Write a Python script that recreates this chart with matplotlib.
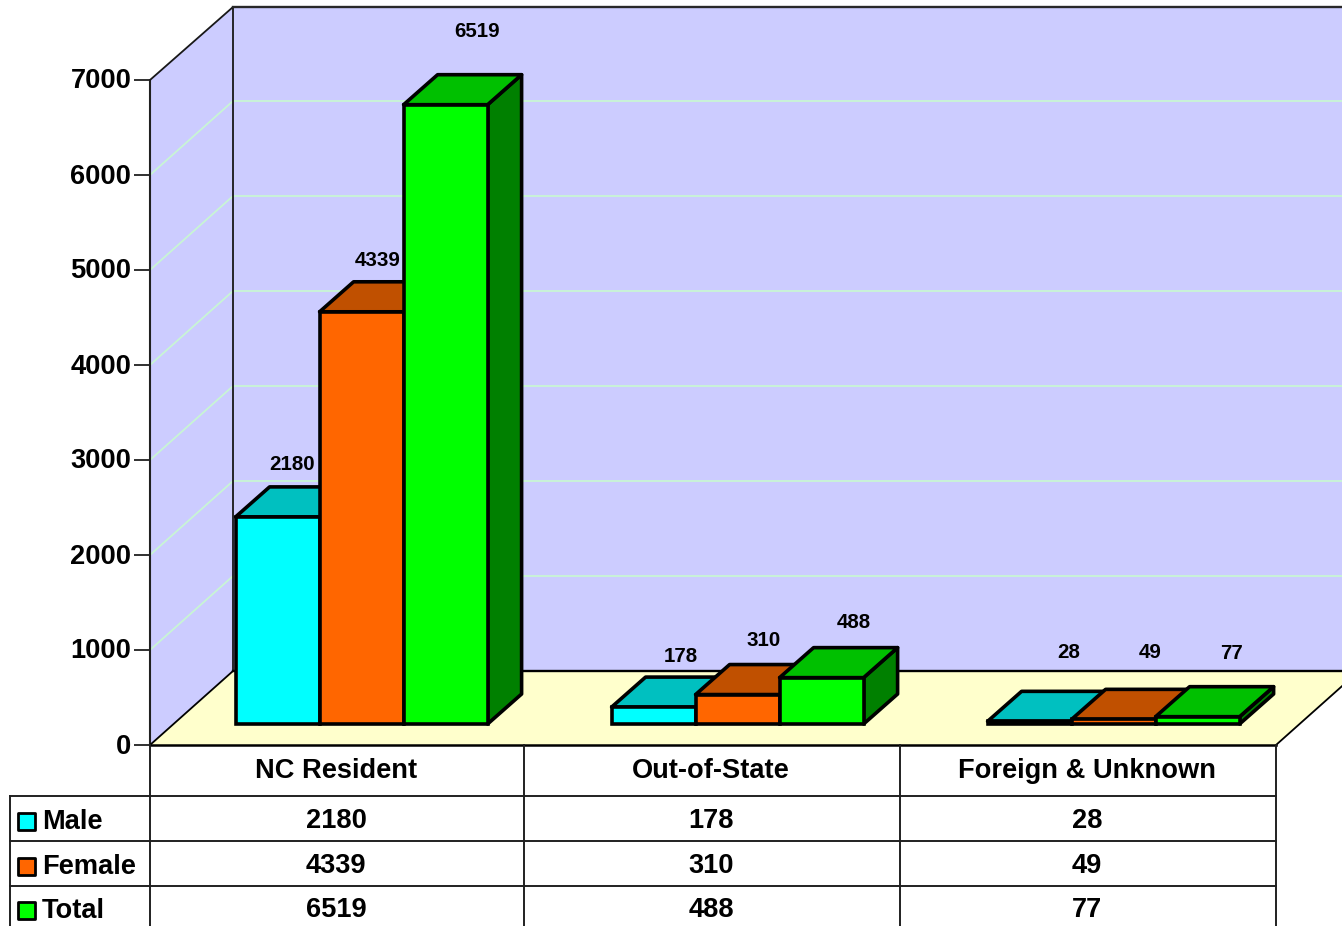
import matplotlib
matplotlib.use("Agg")
import matplotlib.pyplot as plt
from matplotlib.patches import Polygon, Rectangle
from matplotlib.transforms import ScaledTranslation

categories = ["NC Resident", "Out-of-State", "Foreign & Unknown"]
series_names = ["Male", "Female", "Total"]
male = [2180, 178, 28]
female = [4339, 310, 49]
total = [6519, 488, 77]
y_ticks = [0, 1000, 2000, 3000, 4000, 5000, 6000, 7000]

series = [male, female, total]
front_colors = ["#00FFFF", "#FF6600", "#00FF00"]
top_colors = ["#00C0C0", "#C05000", "#00C000"]
side_colors = ["#008080", "#803300", "#008000"]

plt.rcParams["font.family"] = ["Liberation Sans", "DejaVu Sans"]
plt.rcParams["font.weight"] = "bold"

W, H = 1342, 926
PX_PER_UNIT = 0.095   # 95 px for every 1000
BASE_PX = 745         # pixel row of value 0


def val(p):
    # pixel row -> value on the y axis
    return (BASE_PX - p) / PX_PER_UNIT


fig = plt.figure(figsize=(W / 100, H / 100), dpi=100)
ax = fig.add_axes([150 / W, 0, (W - 150) / W, 1])
ax.set_xlim(150, W)
ax.set_ylim(val(H), val(0))
ax.patch.set_visible(False)

for s in ["top", "right", "bottom"]:
    ax.spines[s].set_visible(False)
ax.spines["left"].set_bounds(0, 7000)
ax.spines["left"].set_linewidth(1.5)
ax.spines["left"].set_color("#202020")
ax.set_xticks([])
ax.set_yticks(y_ticks)
ax.tick_params(axis="y", length=11.5, width=1.4, color="#303030", pad=2, labelsize=19.6)
# tick text sits a little higher than matplotlib centres it
nudge = ScaledTranslation(0, 1.5 / 100, fig.dpi_scale_trans)
for lab in ax.get_yticklabels():
    lab.set_transform(lab.get_transform() + nudge)

depth_x, depth_y = 83, 74
lift = val(BASE_PX - depth_y)
right_edge = 1276

# walls and floor
wall = "#CCCCFF"
wall_top = val(7)
ax.add_patch(Polygon([(233, lift), (W + 20, lift), (W + 20, wall_top), (233, wall_top)],
                     fc=wall, ec="none", zorder=1))
ax.add_patch(Polygon([(150, 0), (233, lift), (233, wall_top), (150, 7000)],
                     fc=wall, ec="none", zorder=1))
for t in y_ticks[1:-1]:
    ax.plot([150, 233, W], [t, t + lift, t + lift], color="#C8F5D4", lw=1.3, zorder=2)
ax.add_patch(Polygon([(150, 0), (233, lift), (right_edge + depth_x, lift), (right_edge, 0)],
                     fc="#FFFFCC", ec="none", zorder=3))
ax.plot([150, 233, 233], [7000, wall_top, lift], color="#181818", lw=1.3, zorder=4)
ax.plot([233, W], [wall_top, wall_top], color="#282828", lw=1.7, zorder=4)
ax.plot([233, W], [lift, lift], color="black", lw=1.7, zorder=4)
ax.plot([150, 233], [0, lift], color="black", lw=1.3, zorder=4)
ax.plot([right_edge, right_edge + depth_x], [0, lift], color="black", lw=1.3, zorder=4)

# bars
group_left = [235.6, 611.6, 987.6]
bar_w = 84
bar_lift = val(724)
dx, dy = 34, 30 / PX_PER_UNIT
edge = dict(ec="black", lw=2.6, joinstyle="round")

z = 5
for g, left in enumerate(group_left):
    for i, vals in enumerate(series):
        x0 = left + i * bar_w
        x1 = x0 + bar_w
        y0 = bar_lift
        y1 = bar_lift + vals[g]
        ax.add_patch(Polygon([(x1, y0), (x1 + dx, y0 + dy), (x1 + dx, y1 + dy), (x1, y1)],
                             fc=side_colors[i], zorder=z, **edge))
        ax.add_patch(Polygon([(x0, y1), (x0 + dx, y1 + dy), (x1 + dx, y1 + dy), (x1, y1)],
                             fc=top_colors[i], zorder=z, **edge))
        ax.bar(x0, vals[g], width=bar_w, bottom=y0, align="edge", color=front_colors[i],
               edgecolor="black", linewidth=2.6, zorder=z + 0.5)
        z += 1

# value labels, offsets from bar left / bar top in pixels
label_dx = [[56, 58, 73], [69, 68, 74], [81, 79, 76]]
label_dy = [[52, 51, 73], [51, 54, 55], [69, 67, 63]]
for g, left in enumerate(group_left):
    for i, vals in enumerate(series):
        ax.text(left + i * bar_w + label_dx[g][i],
                bar_lift + vals[g] + label_dy[g][i] / PX_PER_UNIT,
                str(vals[g]), ha="center", va="center", fontsize=14.8, color="black", zorder=30)

# data table
col_x = [150, 524, 900, 1276]
row_y = [745, 796, 841, 886]
line = dict(color="#202020", lw=1.4, zorder=31, clip_on=False)
ax.plot([150, right_edge], [0, 0], color="black", lw=1.8, zorder=31)
for x in col_x:
    ax.plot([x, x], [val(745), val(H)], **line)
for r in row_y[1:]:
    ax.plot([10, right_edge], [val(r), val(r)], **line)
ax.plot([10, 10], [val(796), val(H)], **line)

txt = dict(ha="center", va="center", fontsize=19.6, color="black", zorder=32)
col_c = [336, 711, 1087]
for c, name in zip(col_c, categories):
    ax.text(c, val(771), name, **txt)
row_c = [821, 866, 910]
for i, name in enumerate(series_names):
    ax.add_patch(Rectangle((18, val(row_c[i] + 9)), 17, 17 / PX_PER_UNIT, fc=front_colors[i], ec="black",
                           lw=2.0, zorder=32, clip_on=False, joinstyle="round"))
    ax.text(42, val(row_c[i] + 1), name, ha="left", va="center", fontsize=19.6, zorder=32, clip_on=False)
    for c, v in zip(col_c, series[i]):
        ax.text(c, val(row_c[i]), str(v), **txt)

fig.savefig("out.png", dpi=100, facecolor="white")
